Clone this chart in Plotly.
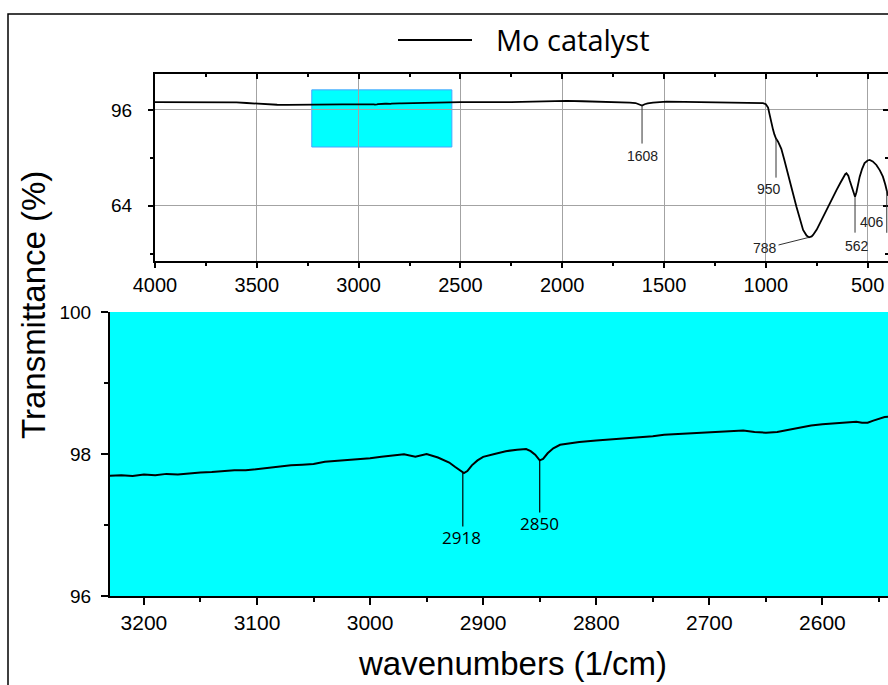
import numpy as np
import plotly.graph_objects as go

# ---------------- data ----------------
series_name = "Mo catalyst"

wavenumber = [
    4000, 3900, 3800, 3700, 3650, 3600, 3550, 3500, 3450, 3400, 3350, 3300, 3260,
    3230, 3220, 3210, 3200, 3190, 3180, 3170, 3160, 3150, 3140, 3130, 3120, 3110,
    3100, 3090, 3080, 3070, 3060, 3050, 3040, 3030, 3020, 3010, 3000, 2990, 2980,
    2970, 2960, 2950, 2940, 2935, 2930, 2925, 2920, 2917, 2914, 2910, 2905, 2900,
    2890, 2880, 2870, 2862, 2858, 2854, 2850, 2847, 2843, 2838, 2832, 2825, 2815,
    2800, 2790, 2780, 2770, 2760, 2750, 2740, 2730, 2720, 2710, 2700, 2690, 2680,
    2670, 2660, 2650, 2640, 2630, 2620, 2610, 2600, 2590, 2580, 2570, 2565, 2560,
    2555, 2550, 2545, 2540,
    2500, 2450, 2400, 2350, 2306, 2250, 2200, 2143, 2080, 2030, 1979, 1900, 1815,
    1740, 1668, 1640, 1620, 1608, 1595, 1580, 1554, 1520, 1488, 1400, 1324, 1250,
    1161, 1080, 1030, 1014, 1000, 989, 980, 973, 965, 958, 950, 940, 924, 910, 891,
    870, 850, 830, 817, 800, 788, 775, 768, 750, 735, 715, 694, 675, 653, 635, 620,
    610, 604, 595, 588, 580, 570, 562, 555, 548, 539, 527, 515, 500, 490, 475, 457,
    440, 425, 413, 403, 400,
]
transmittance = [
    98.60, 98.60, 98.62, 98.60, 98.58, 98.50, 98.30, 98.05, 97.85, 97.72, 97.68, 97.66, 97.67,
    97.69, 97.70, 97.69, 97.71, 97.70, 97.72, 97.71, 97.73, 97.74, 97.745, 97.76, 97.77, 97.77,
    97.79, 97.80, 97.82, 97.84, 97.85, 97.86, 97.89, 97.90, 97.92, 97.93, 97.94, 97.96, 97.98,
    97.995, 97.96, 98.00, 97.95, 97.92, 97.88, 97.82, 97.76, 97.73, 97.76, 97.84, 97.91, 97.96,
    98.00, 98.04, 98.06, 98.07, 98.04, 97.99, 97.91, 97.93, 98.01, 98.08, 98.13, 98.15, 98.17,
    98.19, 98.20, 98.22, 98.23, 98.24, 98.25, 98.27, 98.28, 98.29, 98.30, 98.31, 98.315, 98.32,
    98.33, 98.31, 98.30, 98.31, 98.34, 98.38, 98.40, 98.42, 98.43, 98.45, 98.455, 98.44, 98.44,
    98.47, 98.50, 98.52, 98.525,
    98.57, 98.60, 98.55, 98.45, 98.50, 98.60, 98.70, 98.80, 98.85, 98.90, 99.00, 98.90, 98.80,
    98.60, 98.45, 98.30, 97.90, 97.45, 97.90, 98.20, 98.45, 98.60, 98.80, 98.70, 98.57, 98.50,
    98.45, 98.40, 98.30, 98.24, 97.90, 96.80, 94.00, 91.50, 89.50, 87.80, 86.40, 85.40, 83.00, 79.50, 74.80,
    69.00, 63.70, 58.60, 55.90, 54.00, 53.40, 53.70, 54.20, 56.00, 58.10, 60.80, 63.70, 66.30, 69.20, 71.50, 73.50,
    74.50, 74.80, 74.00, 72.40, 70.90, 68.30, 67.00, 68.50, 71.20, 73.70, 76.30, 78.20, 79.10, 79.30, 78.80, 77.60,
    75.80, 73.70, 71.00, 68.10, 67.30,
]

top_x_range = [4000, 400]
top_y_range = [45.5, 108]
zoom_x_range = [3230, 2542]
zoom_y_range = [96, 100]
inset_box_y = [83.6, 102.7]

top_peaks = [1608, 950, 788, 562, 406]
zoom_peaks = [2918, 2850]

# ---------------- layout helpers ----------------
W, H = 888, 685
FONT = "Arial, 'Liberation Sans', sans-serif"
HFONT = "'Open Sans', 'Noto Sans', sans-serif"


def px(x):
    return x / W


def py(y):
    return 1 - y / H


TOP = dict(l=155, t=74, b=261)
BOT = dict(l=110, t=312, b=596)
top_ppu = (TOP["b"] - TOP["t"]) / (top_y_range[1] - top_y_range[0])
bot_ppu = (BOT["b"] - BOT["t"]) / (zoom_y_range[1] - zoom_y_range[0])

wn = np.array(wavenumber, float)
tr = np.array(transmittance, float)


def T(w):
    return float(np.interp(w, wn[::-1], tr[::-1]))


fig = go.Figure()
fig.add_trace(go.Scatter(x=wavenumber, y=transmittance, mode="lines", name=series_name,
                         line=dict(color="black", width=1.8), xaxis="x", yaxis="y",
                         showlegend=False, hoverinfo="skip"))
fig.add_trace(go.Scatter(x=wavenumber, y=transmittance, mode="lines", name=series_name,
                         line=dict(color="black", width=2), xaxis="x2", yaxis="y2",
                         showlegend=False, hoverinfo="skip"))
# invisible trace to anchor the mirrored (top/right) tick axes
fig.add_trace(go.Scatter(x=[top_x_range[0]], y=[top_y_range[0]], mode="markers",
                         marker=dict(opacity=0), xaxis="x3", yaxis="y3",
                         showlegend=False, hoverinfo="skip"))

tick_font_top = dict(family=FONT, size=20, color="black")
tick_font_bot = dict(family=FONT, size=21, color="black")

axis_common = dict(showline=True, linewidth=2, linecolor="black", zeroline=False,
                   tickcolor="black", tickwidth=2, tickmode="linear", tick0=0,
                   automargin=False)

fig.update_layout(
    width=W, height=H, autosize=False,
    margin=dict(l=0, r=0, t=0, b=0, pad=0, autoexpand=False),
    paper_bgcolor="white", plot_bgcolor="white",
    showlegend=False,
    xaxis=dict(domain=[px(TOP["l"]), 1], anchor="y", range=top_x_range, dtick=500,
               ticks="outside", ticklen=5, showgrid=True, gridcolor="#a3a3a3", gridwidth=1,
               tickfont=tick_font_top,
               minor=dict(dtick=250, ticks="outside", ticklen=3, tickwidth=1.5,
                          tickcolor="black", showgrid=False),
               **axis_common),
    yaxis=dict(domain=[py(TOP["b"]), py(TOP["t"])], anchor="x", range=top_y_range, dtick=32,
               ticks="outside", ticklen=5, showgrid=True, gridcolor="#a3a3a3", gridwidth=1,
               tickfont=dict(family=FONT, size=19, color="black"), ticklabelstandoff=12,
               minor=dict(dtick=16, ticks="outside", ticklen=3, tickwidth=1.5,
                          tickcolor="black", showgrid=False),
               **axis_common),
    xaxis3=dict(overlaying="x", anchor="y", side="top", range=top_x_range, dtick=500,
                ticks="inside", ticklen=5, showgrid=False, showticklabels=False,
                minor=dict(dtick=250, ticks="inside", ticklen=3, tickwidth=1.5,
                           tickcolor="black", showgrid=False),
                **axis_common),
    yaxis3=dict(overlaying="y", anchor="x", side="right", range=top_y_range, dtick=32,
                ticks="inside", ticklen=5, showgrid=False, showticklabels=False,
                minor=dict(dtick=16, ticks="inside", ticklen=3, tickwidth=1.5,
                           tickcolor="black", showgrid=False),
                **axis_common),
    xaxis2=dict(domain=[px(BOT["l"]), 1], anchor="y2", range=zoom_x_range, dtick=100,
                ticks="outside", ticklen=7, showgrid=False, tickfont=tick_font_bot,
                minor=dict(dtick=50, ticks="outside", ticklen=4, tickwidth=1.5,
                           tickcolor="black", showgrid=False),
                **axis_common),
    yaxis2=dict(domain=[py(BOT["b"]), py(BOT["t"])], anchor="x2", range=zoom_y_range, dtick=2,
                ticks="outside", ticklen=7, showgrid=False,
                tickfont=dict(family=FONT, size=19, color="black"),
                ticklabelstandoff=6,
                minor=dict(dtick=1, ticks="outside", ticklen=4, tickwidth=1.5,
                           tickcolor="black", showgrid=False),
                **axis_common),
)

shapes = [
    # cyan background of the zoomed panel
    dict(type="rect", xref="x2 domain", yref="y2 domain", x0=0, x1=1, y0=0, y1=1,
         fillcolor="#00FFFF", line=dict(width=0), layer="below"),
    # cyan box marking the zoom window in the full spectrum
    dict(type="rect", xref="x", yref="y", x0=zoom_x_range[0], x1=zoom_x_range[1],
         y0=inset_box_y[0], y1=inset_box_y[1], fillcolor="#00FFFF",
         line=dict(color="#4aa3ff", width=1), layer="below"),
    # outer frame
    dict(type="rect", xref="paper", yref="paper", x0=px(8), x1=1.2, y0=-0.2, y1=py(14),
         line=dict(color="black", width=1.5), fillcolor="rgba(0,0,0,0)"),
    # legend sample line
    dict(type="line", xref="paper", yref="paper", x0=px(398), x1=px(472), y0=py(40), y1=py(40),
         line=dict(color="black", width=2)),
]

annotations = [
    dict(text=series_name, xref="paper", yref="paper", x=px(494), y=py(39),
         xanchor="left", yanchor="middle", showarrow=False,
         font=dict(family=HFONT, size=29, color="black")),
    dict(text="Transmittance (%)", xref="paper", yref="paper", x=px(33), y=py(305),
         textangle=-90, xanchor="center", yanchor="middle", showarrow=False,
         font=dict(family=FONT, size=33, color="black")),
    dict(text="wavenumbers (1/cm)", xref="paper", yref="paper", x=px(512), y=py(663),
         xanchor="center", yanchor="middle", showarrow=False,
         font=dict(family=FONT, size=33, color="black")),
]

# peak markers, full spectrum: (line length px, label dx, label dy)
top_style = {1608: (38, 0, 50), 950: (39, -7, 50), 562: (36, 2, 49), 406: (42, -15, 31)}
for w in top_peaks:
    t = T(w)
    if w in top_style:
        L, dx, dy = top_style[w]
        shapes.append(dict(type="line", xref="x", yref="y", x0=w, x1=w, y0=t,
                           y1=t - L / top_ppu, line=dict(color="#333333", width=1)))
        annotations.append(dict(text=str(w), xref="x", yref="y", x=w, y=t, xshift=dx,
                                yshift=-dy, showarrow=False, xanchor="center",
                                yanchor="middle",
                                font=dict(family=FONT, size=14, color="#222222")))
    else:
        annotations.append(dict(text=str(w), xref="x", yref="y", x=w, y=t, showarrow=True,
                                ax=-44, ay=11, arrowhead=0, arrowwidth=1,
                                arrowcolor="#333333", standoff=1,
                                font=dict(family=FONT, size=14, color="#222222")))

# peak markers, zoomed panel
zoom_style = {2918: (54, -1, 65), 2850: (52, 0, 63)}
for w in zoom_peaks:
    t = T(w)
    L, dx, dy = zoom_style[w]
    shapes.append(dict(type="line", xref="x2", yref="y2", x0=w, x1=w, y0=t,
                       y1=t - L / bot_ppu, line=dict(color="black", width=1.2)))
    annotations.append(dict(text=str(w), xref="x2", yref="y2", x=w, y=t, xshift=dx,
                            yshift=-dy, showarrow=False, xanchor="center", yanchor="middle",
                            font=dict(family=HFONT, size=17, color="black")))

fig.update_layout(shapes=shapes, annotations=annotations)

fig.write_html(
    "out.html",
    config={"displayModeBar": False, "responsive": False},
    post_script="document.body.style.margin='0';document.body.style.overflow='hidden';",
)
